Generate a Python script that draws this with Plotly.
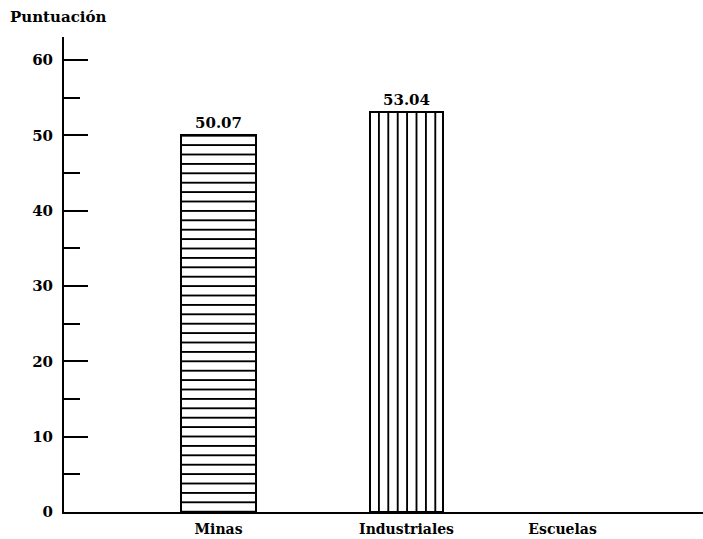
import plotly.graph_objects as go

# datos del gráfico
categorias = ["Minas", "Industriales", "Escuelas"]
puntuacion = [50.07, 53.04, 0]
etiquetas_valor = ["50.07", "53.04", ""]
y_ticks = [0, 10, 20, 30, 40, 50, 60]

# posiciones en el eje (las categorías no están equiespaciadas en el original)
pos_x = [0, 1, 1.83]
anchos = [0.40, 0.39, 0.40]
patrones = ["-", "|", ""]
bordes = [2, 2, 0]

fuente = "DejaVu Serif"

fig = go.Figure()

fig.add_trace(go.Bar(
    x=pos_x,
    y=puntuacion,
    width=anchos,
    text=etiquetas_valor,
    textposition="outside",
    cliponaxis=False,
    textfont=dict(family=fuente, size=15, color="black", weight="bold"),
    marker=dict(
        color="white",
        line=dict(color="black", width=bordes),
        pattern=dict(shape=patrones, size=9.4, solidity=0.2,
                     fgcolor="black", bgcolor="white", fillmode="replace"),
    ),
    showlegend=False,
))

fig.update_layout(
    width=703, height=539,
    margin=dict(l=64, r=0, t=37, b=27),
    paper_bgcolor="white",
    plot_bgcolor="white",
    font=dict(family=fuente, size=14, color="black"),
    bargap=0,
    xaxis=dict(
        range=[-0.822, 2.577],
        tickvals=pos_x,
        ticktext=categorias,
        ticks="",
        showgrid=False,
        zeroline=False,
        showline=True, linecolor="black", linewidth=2,
        tickfont=dict(family=fuente, size=14, color="black", weight="bold"),
        ticklabelstandoff=3,
    ),
    yaxis=dict(
        range=[0, 63.05],
        tickvals=y_ticks,
        ticks="inside", ticklen=24, tickwidth=2, tickcolor="black",
        minor=dict(dtick=5, ticks="inside", ticklen=16, tickwidth=1.5, tickcolor="black", showgrid=False),
        showgrid=False,
        zeroline=False,
        showline=True, linecolor="black", linewidth=2,
        tickfont=dict(family=fuente, size=15, color="black", weight="bold"),
        ticklabelstandoff=6,
    ),
    annotations=[dict(
        text="Puntuación", x=-0.088, y=1.042, xref="paper", yref="paper",
        xanchor="left", yanchor="middle", showarrow=False,
        font=dict(family=fuente, size=15, color="black", weight="bold"),
    )],
)

fig.write_html("out.html", config={"displayModeBar": False},
               post_script="document.body.style.margin='0';")
